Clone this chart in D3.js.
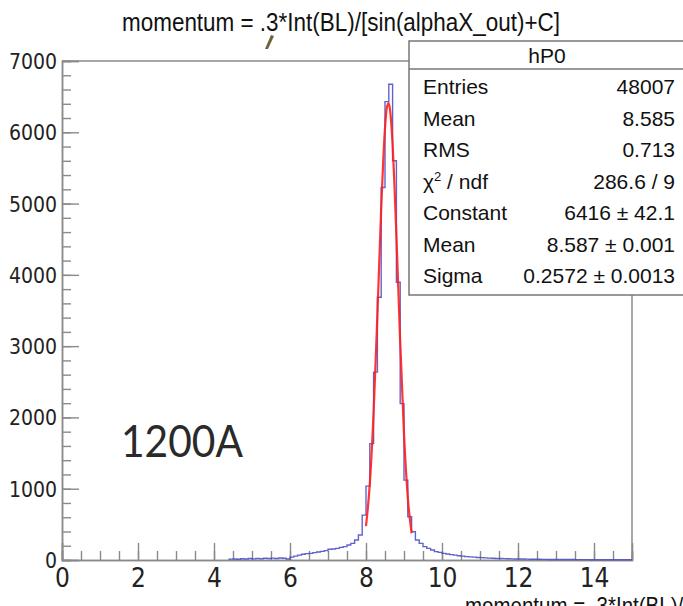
<!DOCTYPE html>
<meta charset="utf-8">
<style>
body { margin: 0; background: #fff; }
svg { display: block; }
.axis path.domain { stroke: #8a8a8a; stroke-width: 1.5px; }
.axis .tick line { stroke: #8a8a8a; stroke-width: 1.4px; }
.axis .tick text { fill: #222; font-family: "Liberation Sans Narrow", "Arial Narrow", "DejaVu Sans Condensed", sans-serif; }
.stats text { font-family: "Liberation Sans", Arial, sans-serif; font-size: 21px; fill: #111; }
</style>
<svg width="683" height="606"></svg>
<script src="https://d3js.org/d3.v7.min.js"></script>
<script>

// histogram hP0: bins of width 0.1 starting at 4.4
var binStart = 4.4, binWidth = 0.1;
var counts = [
  12, 15, 10, 18, 14, 20, 16, 22, 18, 24, 20, 26, 22, 28, 24, 14,          // 4.4 - 5.9
  40, 55, 68, 80, 89, 93, 103, 112, 121, 131,                              // 6.0 - 6.9
  150, 154, 163, 177, 187, 210, 233, 280, 350, 630,                        // 7.0 - 7.9
  1036, 1633, 2636, 3686, 5226, 6430, 6674, 5600, 3896, 2193,              // 8.0 - 8.9
  1120, 607, 397, 280, 233, 187, 163, 140, 117, 107,                       // 9.0 - 9.9
  93, 84, 76, 68, 60, 55, 48, 44, 40, 36,                                  // 10.0 - 10.9
  33, 30, 27, 25, 22, 20, 19, 17, 16, 15,                                  // 11.0 - 11.9
  14, 13, 12, 11, 10, 10, 9, 9, 8, 8,                                      // 12.0 - 12.9
  7, 7, 6, 6, 6, 5, 5, 5, 5, 4,                                            // 13.0 - 13.9
  4, 4, 4, 4, 3, 3, 3, 3, 3, 3                                             // 14.0 - 14.9
];

// gaus fit
var fitX = [8.0, 8.1, 8.2, 8.3, 8.4, 8.5, 8.55, 8.6, 8.65, 8.7, 8.8, 8.9, 9.0, 9.1, 9.2];
var fitY = [475, 1068, 2069, 3441, 4926, 6060, 6350, 6410, 6226, 5826, 4553, 3060, 1768, 877, 375];

var xMajor = [0, 2, 4, 6, 8, 10, 12, 14];
var yMajor = [0, 1000, 2000, 3000, 4000, 5000, 6000, 7000];

var statLabels = ["Entries", "Mean", "RMS", "χ2 / ndf", "Constant", "Mean", "Sigma"];
var statValues = ["48007", "8.585", "0.713", "286.6 / 9", "6416 ± 42.1", "8.587 ± 0.001", "0.2572 ± 0.0013"];

var titleText = "momentum = .3*Int(BL)/[sin(alphaX_out)+C]";

var svg = d3.select("svg");

var x = d3.scaleLinear().domain([0, 15]).range([62, 632]),
    y = d3.scaleLinear().domain([0, 7000]).range([560, 61]);

// frame
svg.append("line").attr("x1", 62).attr("x2", 632).attr("y1", 61).attr("y2", 61)
    .attr("stroke", "#8a8a8a").attr("stroke-width", 1.5);
svg.append("line").attr("x1", 632).attr("x2", 632).attr("y1", 61).attr("y2", 560)
    .attr("stroke", "#8a8a8a").attr("stroke-width", 1.5);

// minor ticks
svg.append("g").attr("class", "axis")
    .attr("transform", "translate(62,0)")
    .call(d3.axisLeft(y).tickValues(d3.range(0, 7001, 200)).tickSize(-9).tickFormat(""));
svg.append("g").attr("class", "axis")
    .attr("transform", "translate(0,560)")
    .call(d3.axisBottom(x).tickValues(d3.range(0, 15.01, 0.5)).tickSize(-9).tickFormat(""));

// major ticks + labels
var yAx = svg.append("g").attr("class", "axis")
    .attr("transform", "translate(62,0)")
    .call(d3.axisLeft(y).tickValues(yMajor).tickSize(-17).tickPadding(5).tickFormat(d3.format("d")));
yAx.selectAll(".tick text").attr("font-size", 21).attr("dy", "0.36em");

var xAx = svg.append("g").attr("class", "axis")
    .attr("transform", "translate(0,560)")
    .call(d3.axisBottom(x).tickValues(xMajor).tickSize(-17).tickPadding(9).tickFormat(d3.format("d")));
xAx.selectAll(".tick text").attr("font-size", 26);

// histogram outline
var pts = [[binStart, 0]];
counts.forEach(function(c, i) {
  var lo = binStart + i * binWidth;
  pts.push([lo, c], [lo + binWidth, c]);
});
svg.append("path")
    .datum(pts)
    .attr("fill", "none")
    .attr("stroke", "#4646c4")
    .attr("stroke-opacity", 0.85)
    .attr("stroke-width", 1.4)
    .attr("d", d3.line().x(function(d) { return x(d[0]); }).y(function(d) { return y(d[1]); }));

// fit curve
svg.append("path")
    .datum(fitX.map(function(v, i) { return [v, fitY[i]]; }))
    .attr("fill", "none")
    .attr("stroke", "#ff1e1e")
    .attr("stroke-opacity", 0.9)
    .attr("stroke-width", 2.2)
    .attr("d", d3.line().curve(d3.curveMonotoneX)
        .x(function(d) { return x(d[0]); }).y(function(d) { return y(d[1]); }));

// title
svg.append("text")
    .attr("x", 122).attr("y", 31)
    .attr("textLength", 438).attr("lengthAdjust", "spacingAndGlyphs")
    .attr("font-family", "Liberation Sans, Arial, sans-serif")
    .attr("font-size", 25).attr("fill", "#111")
    .text(titleText);

// stray mark below title
svg.append("path")
    .attr("d", "M265,49 L271,35 L274,36 L268,49 Z")
    .attr("fill", "#6f6236");

// stats box
var st = svg.append("g").attr("class", "stats");
st.append("rect").attr("x", 409).attr("y", 41).attr("width", 290).attr("height", 254)
    .attr("fill", "#fff").attr("stroke", "#777").attr("stroke-width", 1.5);
st.append("line").attr("x1", 409).attr("x2", 699).attr("y1", 69).attr("y2", 69)
    .attr("stroke", "#777").attr("stroke-width", 1.5);
st.append("text").attr("x", 547).attr("y", 63).attr("text-anchor", "middle")
    .attr("font-size", 22).text("hP0");

statLabels.forEach(function(lab, i) {
  var yy = 94 + i * 31.5;
  var t = st.append("text").attr("x", 423).attr("y", yy);
  if (lab.indexOf("χ2") === 0) {
    t.append("tspan").text("χ");
    t.append("tspan").attr("font-size", 13).attr("dy", -8).text("2");
    t.append("tspan").attr("dy", 8).text(" / ndf");
  } else {
    t.text(lab);
  }
  st.append("text").attr("x", 675).attr("y", yy).attr("text-anchor", "end").text(statValues[i]);
});

// annotation
svg.append("text")
    .attr("x", 121).attr("y", 457)
    .attr("textLength", 122).attr("lengthAdjust", "spacingAndGlyphs")
    .attr("font-family", "Lato, 'Open Sans', sans-serif")
    .attr("font-size", 44).attr("fill", "#2a2a2a")
    .text("1200A");

// x axis title (cut by the page edge)
svg.append("text")
    .attr("x", 465).attr("y", 614)
    .attr("textLength", 400).attr("lengthAdjust", "spacingAndGlyphs")
    .attr("font-family", "Liberation Sans, Arial, sans-serif")
    .attr("font-size", 24).attr("fill", "#111")
    .text(titleText);

</script>
